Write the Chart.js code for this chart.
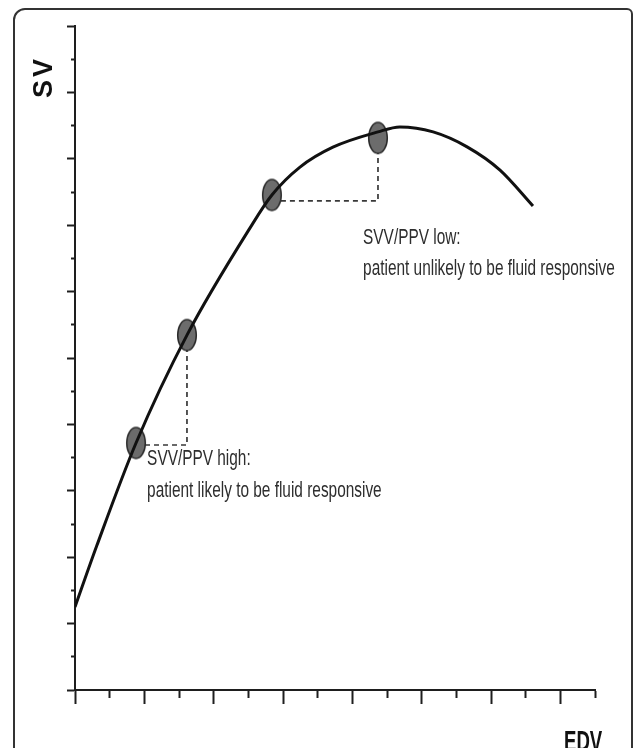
<!DOCTYPE html>
<html>
<head>
<meta charset="utf-8">
<script src="https://cdn.jsdelivr.net/npm/chart.js@4.4.0/dist/chart.umd.min.js"></script>
<style>
  html, body { margin: 0; padding: 0; background: #fff; overflow: hidden; }
  #frame {
    position: absolute; left: 13px; top: 8px; width: 616px; height: 800px;
    border: 2px solid #333; border-radius: 12px 6px 0 0;
  }
  #chart { position: absolute; left: 0; top: 0; }
</style>
</head>
<body>
<div id="frame"></div>
<canvas id="chart" width="633" height="748"></canvas>
<script>
// curve (x = EDV, y = SV, axis units = minor ticks)
const curveX = [0, 0.63, 1.76, 3.23, 5.05, 5.68, 6.49, 7.44, 8.74, 9.37, 10.33, 11.31, 12.26, 13.21];
const curveY = [2.50, 4.35, 7.44, 10.69, 13.92, 14.91, 15.75, 16.35, 16.81, 16.96, 16.81, 16.36, 15.66, 14.58];

// the four grey markers
const markX = [1.76, 3.23, 5.68, 8.74];
const markY = [7.44, 10.69, 14.91, 16.63];

// dashed steps
const highStepX = [1.76, 3.23, 3.23];
const highStepY = [7.38, 7.38, 10.69];
const lowStepX = [5.68, 8.74, 8.74];
const lowStepY = [14.73, 14.73, 16.63];

// axes
const xMin = 0, xMax = 15;
const yMin = 0, yMax = 20;

const yTitle = 'SV';
const xTitle = 'EDV';
const highText = ['SVV/PPV high:', 'patient likely to be fluid responsive'];
const lowText = ['SVV/PPV low:', 'patient unlikely to be fluid responsive'];


function toPoints(xs, ys) {
    return xs.map(function (x, i) { return { x: x, y: ys[i] }; });
}

// grey ellipse used as point style
function makeEllipse() {
    var c = document.createElement('canvas');
    c.width = 22;
    c.height = 35;
    var g = c.getContext('2d');
    g.beginPath();
    g.ellipse(11, 17.5, 9.3, 15.5, 0, 0, Math.PI * 2);
    g.fillStyle = '#6c6c6c';
    g.fill();
    g.lineWidth = 1.5;
    g.strokeStyle = '#2b2b2b';
    g.stroke();
    return c;
}

function condensed(ctx, text, x, y, sx) {
    ctx.save();
    ctx.translate(x, y);
    ctx.scale(sx, 1);
    ctx.fillText(text, 0, 0);
    ctx.restore();
}

const labelPlugin = {
    id: 'labels',
    afterDraw: function (chart) {
        var ctx = chart.ctx;
        var xs = chart.scales.x;
        var ys = chart.scales.y;

        ctx.save();
        ctx.fillStyle = '#2e2e2e';
        ctx.textAlign = 'left';
        ctx.textBaseline = 'alphabetic';
        ctx.font = '22px "Liberation Sans", Arial, sans-serif';

        var hx = xs.getPixelForValue(2.08);
        condensed(ctx, highText[0], hx, ys.getPixelForValue(6.78), 0.7);
        condensed(ctx, highText[1], hx, ys.getPixelForValue(5.81), 0.7);

        var lx = xs.getPixelForValue(8.31);
        condensed(ctx, lowText[0], lx, ys.getPixelForValue(13.43), 0.7);
        condensed(ctx, lowText[1], lx, ys.getPixelForValue(12.50), 0.7);

        // axis titles
        ctx.fillStyle = '#111';
        ctx.font = 'bold 30px "Liberation Sans", Arial, sans-serif';
        condensed(ctx, xTitle, 564, 751, 0.62);

        ctx.translate(45, 78);
        ctx.rotate(-Math.PI / 2);
        ctx.textAlign = 'center';
        ctx.textBaseline = 'middle';
        ctx.font = 'bold 27px "Liberation Sans", Arial, sans-serif';
        ctx.letterSpacing = '3px';
        ctx.fillText(yTitle, 1, 0);
        ctx.restore();
    }
};

const axisColor = '#1e1e1e';

const chart = new Chart(document.getElementById('chart'), {
    type: 'scatter',
    data: {
        datasets: [{
            type: 'line',
            data: toPoints(curveX, curveY),
            borderColor: '#111',
            borderWidth: 3,
            cubicInterpolationMode: 'monotone',
            pointRadius: 0,
            fill: false,
            order: 0
        }, {
            data: toPoints(markX, markY),
            pointStyle: makeEllipse(),
            pointRadius: 16,
            order: 1
        }, {
            type: 'line',
            data: toPoints(highStepX, highStepY),
            borderColor: '#383838',
            borderWidth: 1.7,
            borderDash: [5, 4],
            pointRadius: 0,
            tension: 0,
            fill: false,
            order: 2
        }, {
            type: 'line',
            data: toPoints(lowStepX, lowStepY),
            borderColor: '#383838',
            borderWidth: 1.7,
            borderDash: [5, 4],
            pointRadius: 0,
            tension: 0,
            fill: false,
            order: 2
        }]
    },
    options: {
        responsive: false,
        animation: false,
        layout: { padding: { left: 67, right: 38, top: 26, bottom: 44 } },
        plugins: {
            legend: { display: false },
            tooltip: { enabled: false }
        },
        scales: {
            x: {
                type: 'linear',
                min: xMin,
                max: xMax,
                ticks: { display: false, stepSize: 1, autoSkip: false },
                grid: {
                    drawOnChartArea: false,
                    tickLength: 14,
                    tickWidth: 2,
                    tickColor: axisColor,
                    // odd ticks drawn half length
                    tickBorderDash: function (c) { return c.tick.value % 2 ? [7, 100] : []; }
                },
                border: { color: axisColor, width: 2 }
            },
            y: {
                type: 'linear',
                min: yMin,
                max: yMax,
                ticks: { display: false, stepSize: 1, autoSkip: false },
                grid: {
                    drawOnChartArea: false,
                    tickLength: 8,
                    tickWidth: 2,
                    tickColor: axisColor,
                    tickBorderDash: function (c) { return c.tick.value % 2 ? [4, 100] : []; },
                    tickBorderDashOffset: function (c) { return c.tick.value % 2 ? 100 : 0; }
                },
                border: { color: axisColor, width: 2 }
            }
        }
    },
    plugins: [labelPlugin]
});
</script>
</body>
</html>
